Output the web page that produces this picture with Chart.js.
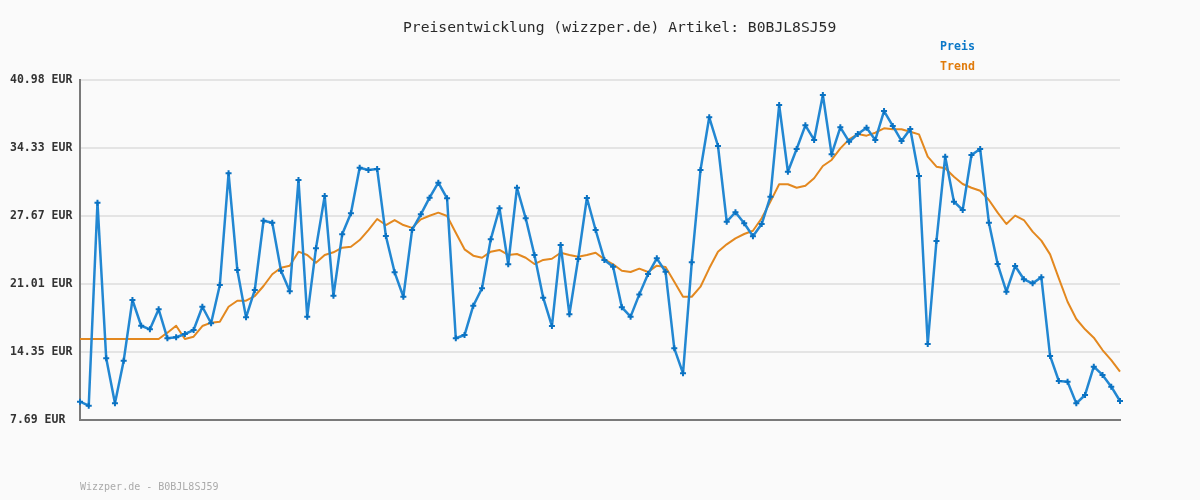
<!DOCTYPE html>
<html>
<head>
<meta charset="utf-8">
<script src="https://cdn.jsdelivr.net/npm/chart.js@4/dist/chart.umd.min.js"></script>
<style>
  html, body { margin: 0; padding: 0; background: #fafafa; }
  canvas { display: block; }
</style>
</head>
<body>
<canvas id="chart" width="1200" height="500"></canvas>
<script>
// price history, one value per day
const preis = [
  9.48, 9.09, 28.97, 13.73, 9.32, 13.50, 19.44, 16.92, 16.57, 18.53,
  15.69, 15.79, 16.11, 16.50, 18.78, 17.16, 20.91, 31.84, 22.38, 17.74,
  20.42, 27.20, 27.01, 22.31, 20.29, 31.19, 17.81, 24.50, 29.62, 19.86,
  25.87, 27.93, 32.39, 32.17, 32.27, 25.71, 22.15, 19.76, 26.30, 27.83,
  29.46, 30.93, 29.40, 15.69, 16.01, 18.88, 20.59, 25.38, 28.42, 22.94,
  30.43, 27.44, 23.85, 19.67, 16.89, 24.82, 18.04, 23.45, 29.43, 26.29,
  23.36, 22.70, 18.72, 17.81, 19.99, 21.98, 23.52, 22.21, 14.71, 12.26,
  23.13, 32.17, 37.33, 34.52, 27.11, 28.03, 26.95, 25.68, 26.88, 29.55,
  38.53, 32.00, 34.22, 36.54, 35.11, 39.51, 33.70, 36.35, 34.94, 35.69,
  36.31, 35.11, 37.94, 36.48, 35.01, 36.18, 31.58, 15.13, 25.22, 33.47,
  29.07, 28.25, 33.64, 34.22, 27.01, 22.96, 20.25, 22.77, 21.47, 21.07,
  21.66, 13.96, 11.51, 11.44, 9.32, 10.14, 12.91, 12.10, 10.95, 9.55
];

const trend = [
  15.62, 15.62, 15.62, 15.62, 15.62, 15.62, 15.62, 15.62, 15.62, 15.62,
  16.24, 16.92, 15.62, 15.85, 16.89, 17.22, 17.32, 18.78, 19.37, 19.37,
  19.83, 20.81, 21.96, 22.60, 22.80, 24.17, 23.85, 23.09, 23.85, 24.11,
  24.56, 24.66, 25.31, 26.29, 27.37, 26.78, 27.27, 26.78, 26.50, 27.34,
  27.69, 27.99, 27.66, 26.03, 24.40, 23.78, 23.58, 24.17, 24.34, 23.85,
  23.94, 23.58, 22.96, 23.36, 23.48, 24.07, 23.85, 23.68, 23.85, 24.07,
  23.42, 22.94, 22.31, 22.18, 22.51, 22.18, 22.80, 22.67, 21.23, 19.76,
  19.76, 20.74, 22.54, 24.17, 24.89, 25.48, 25.90, 26.22, 27.44, 29.07,
  30.77, 30.77, 30.43, 30.63, 31.36, 32.56, 33.15, 34.29, 35.17, 35.69,
  35.53, 35.82, 36.25, 36.15, 36.15, 35.92, 35.66, 33.47, 32.49, 32.33,
  31.51, 30.80, 30.43, 30.14, 29.23, 27.99, 26.88, 27.70, 27.27, 26.13,
  25.25, 23.91, 21.56, 19.27, 17.58, 16.57, 15.75, 14.54, 13.56, 12.42
];

const labels = preis.map((_, i) => String(i + 1));

const yTickValues = [7.69, 14.35, 21.01, 27.67, 34.33, 40.98];
const yTickLabels = ["7.69 EUR", "14.35 EUR", "21.01 EUR", "27.67 EUR", "34.33 EUR", "40.98 EUR"];

const titleText = "Preisentwicklung (wizzper.de) Artikel: B0BJL8SJ59";
const footerText = "Wizzper.de - B0BJL8SJ59";
const legendItems = [
  { text: "Preis", color: "#0b78c8" },
  { text: "Trend", color: "#e07b0c" },
];

const MONO = '"DejaVu Sans Mono", "Liberation Mono", monospace';

// background, title, legend and footer text
const decorations = {
  id: "decorations",
  beforeDraw(chart) {
    const ctx = chart.ctx;
    ctx.save();
    ctx.fillStyle = "#fafafa";
    ctx.fillRect(0, 0, chart.width, chart.height);
    ctx.restore();
  },
  afterDraw(chart) {
    const ctx = chart.ctx;
    ctx.save();
    ctx.textBaseline = "middle";
    ctx.textAlign = "left";

    ctx.font = `14.7px ${MONO}`;
    ctx.fillStyle = "#2a2a2a";
    ctx.fillText(titleText, 403, 28);

    ctx.font = `bold 11.6px ${MONO}`;
    legendItems.forEach((item, i) => {
      ctx.fillStyle = item.color;
      ctx.fillText(item.text, 940, 47 + i * 20);
    });

    ctx.font = `10px ${MONO}`;
    ctx.fillStyle = "#aaaaaa";
    ctx.fillText(footerText, 80, 487);
    ctx.restore();
  },
};

function makeChart() {
  const ctx = document.getElementById("chart").getContext("2d");
  return new Chart(ctx, {
    type: "line",
    data: {
      labels,
      datasets: [
        {
          label: "Preis",
          data: preis,
          borderColor: "#2287d2",
          borderWidth: 2.5,
          borderJoinStyle: "round",
          tension: 0,
          pointStyle: "cross",
          pointRadius: 3,
          pointBorderWidth: 2,
          pointBorderColor: "#0a72c2",
          pointBackgroundColor: "#0a72c2",
          clip: false,
        },
        {
          label: "Trend",
          data: trend,
          borderColor: "#e3881f",
          borderWidth: 2,
          borderJoinStyle: "round",
          tension: 0,
          pointRadius: 0,
        },
      ],
    },
    options: {
      responsive: false,
      animation: false,
      devicePixelRatio: 1,
      layout: { padding: { top: 80, left: 10, right: 80, bottom: 80 } },
      plugins: {
        legend: { display: false },
        title: { display: false },
        tooltip: { enabled: false },
      },
      scales: {
        x: {
          type: "category",
          offset: false,
          grid: { display: false },
          ticks: { display: false },
          border: { display: true, color: "#7a7a7a", width: 2 },
          afterFit: (scale) => {
            scale.height = 0;
          },
        },
        y: {
          min: 7.69,
          max: 40.98,
          afterBuildTicks: (scale) => {
            scale.ticks = yTickValues.map((v) => ({ value: v }));
          },
          afterFit: (scale) => {
            scale.width = 70;
          },
          grid: { color: "#e4e4e4", lineWidth: 2, drawTicks: false },
          border: { display: true, color: "#7a7a7a", width: 2 },
          ticks: {
            crossAlign: "far",
            color: "#333333",
            font: { family: MONO, size: 11.5, weight: "bold" },
            callback: (value) => {
              const idx = yTickValues.indexOf(value);
              return idx >= 0 ? yTickLabels[idx] : "";
            },
          },
        },
      },
    },
    plugins: [decorations],
  });
}

window.addEventListener("DOMContentLoaded", makeChart);
</script>
</body>
</html>
